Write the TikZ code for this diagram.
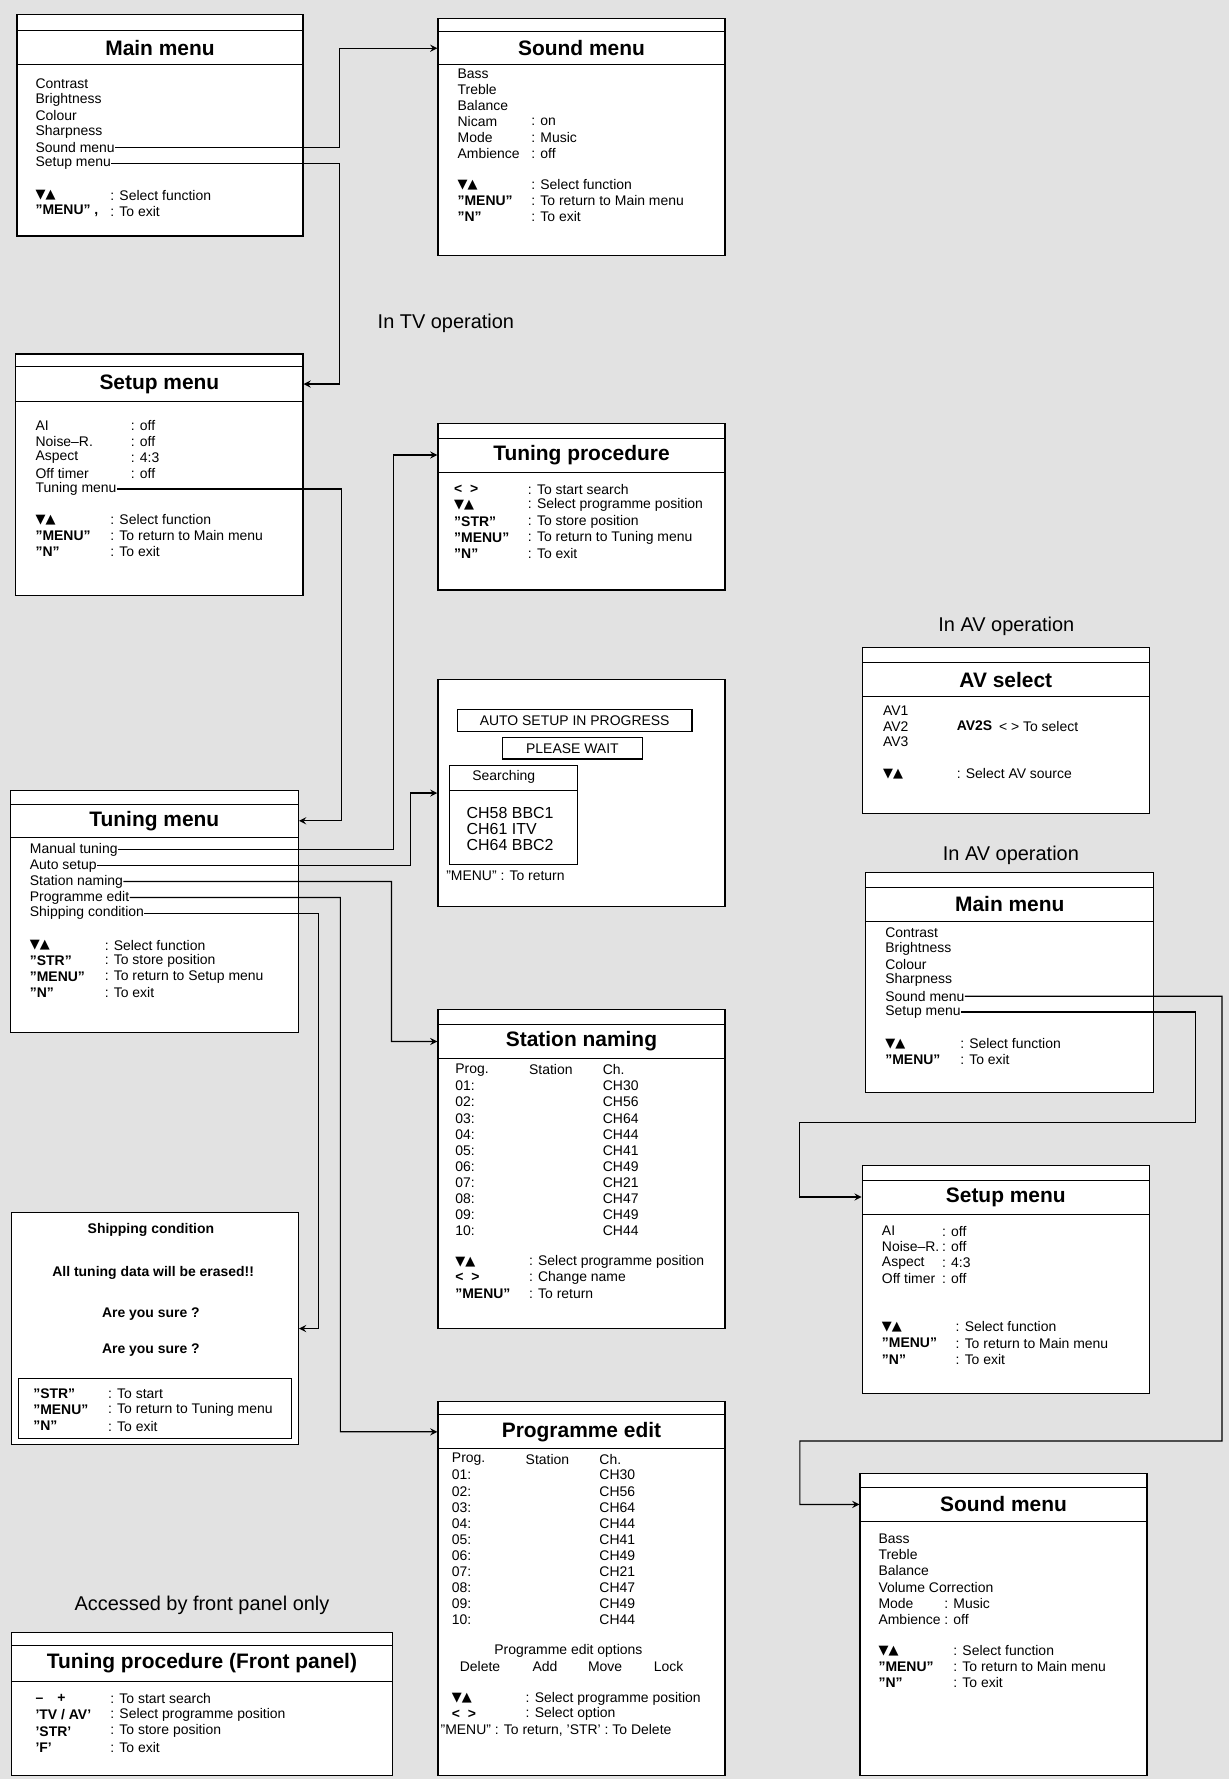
\documentclass[tikz,border=0pt]{standalone}
\usepackage{fontspec}
\setmainfont{Liberation Sans}
\newfontfamily\symf{DejaVu Sans}
\usetikzlibrary{arrows, positioning, calc, fit}
\definecolor{bg}{HTML}{E2E2E2}
\newcommand{\tri}{{\symf\fontsize{6.5}{7}\selectfont ▼▲}}
\newcommand{\two}[1]{\ifnum#1<10 0\fi#1}
% framed menu with thin top strip and title band
\newcommand{\panel}[8]{%
  \node[panelbox, fit={(#2,#3) (#4,#5)}] (#1) {};
  \draw (#2,#6) -- (#4,#6);
  \draw (#2,#7) -- (#4,#7);
  \node[ttl] (#1t) at ($(#2,#6)!0.5!(#4,#7)$) {#8};}
\tikzset{
  panelbox/.style={draw=black, fill=white, line width=0.6pt, inner sep=0pt},
  ttl/.style={font=\fontsize{10.5}{12}\selectfont\bfseries},
  txt/.style={anchor=west, inner sep=0pt, font=\fontsize{7}{8}\selectfont},
  keyt/.style={txt, font=\fontsize{7}{8}\selectfont\bfseries},
  mid/.style={inner sep=0pt, font=\fontsize{7}{8}\selectfont},
  midb/.style={mid, font=\fontsize{7}{8}\selectfont\bfseries},
  captxt/.style={font=\fontsize{10}{12}\selectfont},
  link/.style={->, >=stealth, line width=0.6pt},
}
\begin{document}
\begin{tikzpicture}[x=0.02cm, y=-0.02cm]
  \useasboundingbox[fill=bg] (0,0) rectangle (1083,1568);

  % TV main menu
  \panel{mmtv}{15}{13}{267}{208}{27}{57}{Main menu}
  \foreach \t [count=\i] in {Contrast,Brightness,Colour,Sharpness,Sound menu,Setup menu}
    \node[txt] (mmtv\i) at (31,{60+14*\i}) {\t};
  \foreach \k/\d [count=\i] in {\tri/{: Select function},{"MENU" ,}/{: To exit}} {
    \node[keyt] (mmtvk\i) at (31,{158+14*\i}) {\k};
    \node[txt] (mmtvd\i) at (97,{158+14*\i}) {\d};
  }

  % TV sound menu
  \panel{sndtv}{386}{16}{639}{225}{28}{57}{Sound menu}
  \foreach \t [count=\i] in {Bass,Treble,Balance,Nicam,Mode,Ambience}
    \node[txt] (sndtv\i) at (403,{51+14*\i}) {\t};
  \node[txt] (sndtvv4) at (468,107) {: on};
  \node[txt] (sndtvv5) at (468,121) {: Music};
  \node[txt] (sndtvv6) at (468,135) {: off};
  \foreach \k/\d [count=\i] in {\tri/{: Select function},"MENU"/{: To return to Main menu},"N"/{: To exit}} {
    \node[keyt] (sndtvk\i) at (403,{149+14*\i}) {\k};
    \node[txt] (sndtvd\i) at (468,{149+14*\i}) {\d};
  }

  \node[captxt] (captv) at (393,285) {In TV operation};

  % TV setup menu
  \panel{sutv}{14}{312}{267}{525}{323}{354}{Setup menu}
  \foreach \t [count=\i] in {AI,Noise--R.,Aspect,Off timer,Tuning menu}
    \node[txt] (sutv\i) at (31,{361+14*\i}) {\t};
  \foreach \v [count=\i] in {: off,: off,: 4:3,: off}
    \node[txt] (sutvv\i) at (115,{361+14*\i}) {\v};
  \foreach \k/\d [count=\i] in {\tri/{: Select function},"MENU"/{: To return to Main menu},"N"/{: To exit}} {
    \node[keyt] (sutvk\i) at (31,{444+14*\i}) {\k};
    \node[txt] (sutvd\i) at (97,{444+14*\i}) {\d};
  }

  % Tuning procedure
  \panel{tp}{386}{373}{639}{520}{386}{416}{Tuning procedure}
  \foreach \k/\d [count=\i] in {{< \ >}/{: To start search},\tri/{: Select programme position},"STR"/{: To store position},"MENU"/{: To return to Tuning menu},"N"/{: To exit}} {
    \node[keyt] (tpk\i) at (400,{417+14.2*\i}) {\k};
    \node[txt] (tpd\i) at (465,{417+14.2*\i}) {\d};
  }

  % Auto setup
  \node[panelbox, fit={(386,599) (639,799)}] (as) {};
  \node[panelbox, fit={(403,625) (610,645)}] (asp) {};
  \node[mid] (aspt) at (asp) {AUTO SETUP IN PROGRESS};
  \node[panelbox, fit={(443,650) (566,669)}] (asw) {};
  \node[mid] (aswt) at (asw) {PLEASE WAIT};
  \node[panelbox, fit={(396,675) (509,762)}] (sb) {};
  \draw (396,697) -- (509,697);
  \node[mid] (sbt) at (444,685) {Searching};
  \foreach \t [count=\i] in {CH58 BBC1,CH61 ITV,CH64 BBC2}
    \node[txt, font=\fontsize{8}{9}\selectfont] (sb\i) at (411,{703+14*\i}) {\t};
  \node[txt] (asr) at (393,772) {"MENU" : To return};

  % Tuning menu
  \panel{tm}{9}{697}{263}{910}{709}{738}{Tuning menu}
  \foreach \t [count=\i] in {Manual tuning,Auto setup,Station naming,Programme edit,Shipping condition}
    \node[txt] (tm\i) at (26,{735+14*\i}) {\t};
  \foreach \k/\d [count=\i] in {\tri/{: Select function},"STR"/{: To store position},"MENU"/{: To return to Setup menu},"N"/{: To exit}} {
    \node[keyt] (tmk\i) at (26,{819+14*\i}) {\k};
    \node[txt] (tmd\i) at (92,{819+14*\i}) {\d};
  }

  % Station naming
  \panel{sn}{386}{890}{639}{1171}{903}{933}{Station naming}
  \node[txt] (snh1) at (401,943) {Prog.};
  \node[txt] (snh2) at (466,943) {Station};
  \node[txt] (snh3) at (531,943) {Ch.};
  \foreach \c [count=\i] in {CH30,CH56,CH64,CH44,CH41,CH49,CH21,CH47,CH49,CH44} {
    \node[txt] (snp\i) at (401,{943+14.2*\i}) {\two{\i}:};
    \node[txt] (snc\i) at (531,{943+14.2*\i}) {\c};
  }
  \foreach \k/\d [count=\i] in {\tri/{: Select programme position},{< \ >}/{: Change name},"MENU"/{: To return}} {
    \node[keyt] (snk\i) at (401,{1098+14*\i}) {\k};
    \node[txt] (snd\i) at (466,{1098+14*\i}) {\d};
  }

  % Shipping condition
  \node[panelbox, fit={(10,1069) (263,1273)}] (sc) {};
  \node[midb] (sc1) at (133,1084) {Shipping condition};
  \node[midb] (sc2) at (135,1122) {All tuning data will be erased!!};
  \node[midb] (sc3) at (133,1158) {Are you sure ?};
  \node[midb] (sc4) at (133,1190) {Are you sure ?};
  \node[panelbox, fit={(16,1215) (257,1268)}] (scb) {};
  \foreach \k/\d [count=\i] in {"STR"/{: To start},"MENU"/{: To return to Tuning menu},"N"/{: To exit}} {
    \node[keyt] (sck\i) at (29,{1214+14.3*\i}) {\k};
    \node[txt] (scd\i) at (95,{1214+14.3*\i}) {\d};
  }

  % Programme edit
  \panel{pe}{386}{1235}{639}{1565}{1247}{1277}{Programme edit}
  \node[txt] (peh1) at (398,1286) {Prog.};
  \node[txt] (peh2) at (463,1286) {Station};
  \node[txt] (peh3) at (528,1286) {Ch.};
  \foreach \c [count=\i] in {CH30,CH56,CH64,CH44,CH41,CH49,CH21,CH47,CH49,CH44} {
    \node[txt] (pep\i) at (398,{1286+14.2*\i}) {\two{\i}:};
    \node[txt] (pec\i) at (528,{1286+14.2*\i}) {\c};
  }
  \node[mid] (peo) at (501,1455) {Programme edit options};
  \node[txt] (peo1) at (405,1469) {Delete};
  \node[txt] (peo2) at (469,1469) {Add};
  \node[txt] (peo3) at (518,1469) {Move};
  \node[txt] (peo4) at (576,1469) {Lock};
  \node[keyt] (pek1) at (398,1497) {\tri};
  \node[txt] (ped1) at (463,1497) {: Select programme position};
  \node[keyt] (pek2) at (398,1511) {< \ >};
  \node[txt] (ped2) at (463,1511) {: Select option};
  \node[txt] (ped3) at (388,1525) {"MENU" : To return, 'STR' : To Delete};

  % Front panel
  \node[captxt] (capfp) at (178,1415) {Accessed by front panel only};
  \panel{fp}{10}{1439}{346}{1565}{1450}{1482}{Tuning procedure (Front panel)}
  \foreach \k/\d [count=\i] in {{--\quad+}/{: To start search},{'TV / AV'}/{: Select programme position},'STR'/{: To store position},'F'/{: To exit}} {
    \node[keyt] (fpk\i) at (31,{1483+14.3*\i}) {\k};
    \node[txt] (fpd\i) at (97,{1483+14.3*\i}) {\d};
  }

  % AV select
  \node[captxt] (cav1) at (887,552) {In AV operation};
  \panel{av}{760}{571}{1013}{717}{584}{614}{AV select}
  \foreach \t [count=\i] in {AV1,AV2,AV3}
    \node[txt] (av\i) at (778,{612+14*\i}) {\t};
  \node[keyt] (avs) at (843,640) {AV2S};
  \node[txt, right=3pt of avs] (avd) {< > To select};
  \node[keyt] (avk) at (778,682) {\tri};
  \node[txt] (avkd) at (843,682) {: Select AV source};

  % AV main menu
  \node[captxt] (cav2) at (891,754) {In AV operation};
  \panel{mmav}{763}{769}{1017}{963}{782}{812}{Main menu}
  \foreach \t [count=\i] in {Contrast,Brightness,Colour,Sharpness,Sound menu,Setup menu}
    \node[txt] (mmav\i) at (780,{808+14*\i}) {\t};
  \foreach \k/\d [count=\i] in {\tri/{: Select function},"MENU"/{: To exit}} {
    \node[keyt] (mmavk\i) at (780,{906+14*\i}) {\k};
    \node[txt] (mmavd\i) at (846,{906+14*\i}) {\d};
  }

  % AV setup menu
  \panel{suav}{760}{1027}{1013}{1228}{1040}{1070}{Setup menu}
  \foreach \t [count=\i] in {AI,Noise--R.,Aspect,Off timer}
    \node[txt] (suav\i) at (777,{1071+14*\i}) {\t};
  \foreach \v [count=\i] in {: off,: off,: 4:3,: off}
    \node[txt] (suavv\i) at (830,{1071+14*\i}) {\v};
  \foreach \k/\d [count=\i] in {\tri/{: Select function},"MENU"/{: To return to Main menu},"N"/{: To exit}} {
    \node[keyt] (suavk\i) at (777,{1155+14.4*\i}) {\k};
    \node[txt] (suavd\i) at (842,{1155+14.4*\i}) {\d};
  }

  % AV sound menu
  \panel{sdav}{758}{1299}{1011}{1565}{1311}{1341}{Sound menu}
  \foreach \t [count=\i] in {Bass,Treble,Balance,Volume Correction,Mode,Ambience}
    \node[txt] (sdav\i) at (774,{1342+14.2*\i}) {\t};
  \node[txt] (sdavv5) at (832,1413) {: Music};
  \node[txt] (sdavv6) at (832,1427) {: off};
  \foreach \k/\d [count=\i] in {\tri/{: Select function},"MENU"/{: To return to Main menu},"N"/{: To exit}} {
    \node[keyt] (sdavk\i) at (774,{1441+14*\i}) {\k};
    \node[txt] (sdavd\i) at (840,{1441+14*\i}) {\d};
  }

  % connectors
  \draw[link] (mmtv5.east) -| (299,42.5) -- (sndtvt -| sndtv.west);
  \draw[link] (mmtv6.east) -| (299,338.5) -- (sutvt -| sutv.east);
  \draw[link] (sutv5.east) -| (301,723.5) -- (tmt -| tm.east);
  \draw[link] (tm1.east) -| (347,401) -- (tpt -| tp.west);
  \draw[link] (tm2.east) -| ($(as.west)+(-24,0)$) -- (as.west);
  \draw[link] (tm3.east) -| (345,918) -- (snt -| sn.west);
  \draw[link] (tm4.east) -| (300,1262) -- (pet -| pe.west);
  \draw[link] (tm5.east) -| ($(sc.east)+(17,0)$) -- (sc.east);
  \draw[link] (mmav5.east) -| (1077,1270) -| (705,1326) -- (sdavt -| sdav.west);
  \draw[link] (mmav6.east) -| (1054,989) -| (705,1055) -- (suavt -| suav.west);
\end{tikzpicture}
\end{document}
